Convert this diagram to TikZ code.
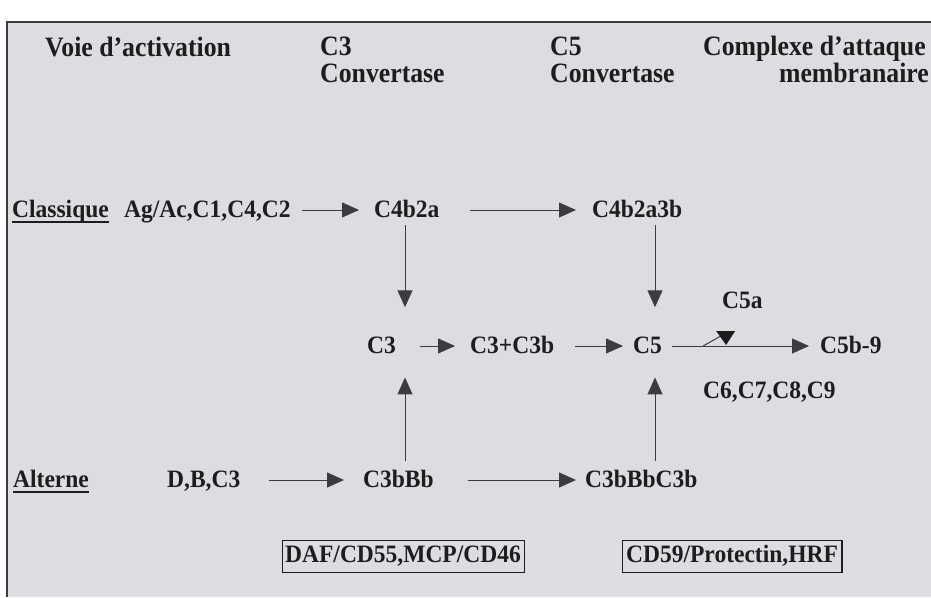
\documentclass[tikz,border=0pt]{standalone}
\usepackage{fontspec}
\setmainfont{Liberation Serif}
\newfontfamily\bodyf{Liberation Serif}[FakeStretch=0.94]
\newfontfamily\ttlf{Liberation Serif}[FakeStretch=0.92]
\usetikzlibrary{arrows.meta}
\definecolor{bg}{RGB}{220,221,224}
\definecolor{ink}{RGB}{30,28,29}
\definecolor{edge}{RGB}{60,60,62}
\begin{document}
\begin{tikzpicture}[x=1pt,y=-1pt,
  lbl/.style={inner sep=0pt, anchor=base west, text=ink, font=\bodyf\fontsize{25}{28}\selectfont\bfseries},
  ttl/.style={lbl, font=\ttlf\fontsize{28}{30}\selectfont\bfseries},
  arr/.style={draw=edge, line width=1pt, -{Triangle[length=17pt,width=15pt]}},
  uline/.style={draw=ink, line width=2pt},
  boxed/.style={lbl, anchor=center, draw=ink, line width=1pt, inner sep=0pt,
                minimum height=32pt}]
\useasboundingbox (0,0) rectangle (931,597);
\fill[white] (0,0) rectangle (931,597);
\fill[bg] (7,22) rectangle (931,597);
\draw[edge, line width=1.2pt] (7,597) -- (7,22) -- (931,22);

% titles
\node[ttl] (t1) at (45,56) {Voie d’activation};
\node[ttl] (t2) at (320,55) {C3};
\node[ttl] (t2b) at (320,82) {Convertase};
\node[ttl] (t3) at (550,55) {C5};
\node[ttl] (t3b) at (550,82) {Convertase};
\node[ttl] (t4) at (703,55) {Complexe d’attaque};
\node[ttl, anchor=base east] (t4b) at (929,82) {membranaire};

% classical row
\node[lbl] (cl) at (12,217) {Classique};
\draw[uline] ([yshift=-5pt]cl.base west) -- ([yshift=-5pt]cl.base east);
\node[lbl] (agac) at (124,217) {Ag/Ac,C1,C4,C2};
\node[lbl] (c4b2a) at (374,217) {C4b2a};
\node[lbl] (c4b2a3b) at (592,217) {C4b2a3b};

% middle row
\node[lbl] (c5a) at (722,308) {C5a};
\node[lbl] (c3) at (367,353) {C3};
\node[lbl] (c3c3b) at (470,353) {C3+C3b};
\node[lbl] (c5) at (633,353) {C5};
\node[lbl] (c5b9) at (820,353) {C5b-9};
\node[lbl] (c6) at (703,398) {C6,C7,C8,C9};

% alternative row
\node[lbl] (alt) at (13,487) {Alterne};
\draw[uline] ([yshift=-5pt]alt.base west) -- ([yshift=-5pt]alt.base east);
\node[lbl] (dbc3) at (167,487) {D,B,C3};
\node[lbl] (c3bbb) at (363,487) {C3bBb};
\node[lbl] (c3bbbc3b) at (585,487) {C3bBbC3b};

% regulators
\node[boxed, minimum width=242pt] (daf) at (403,556) {DAF/CD55,MCP/CD46};
\node[boxed, minimum width=219pt] (cd59) at (732,556) {CD59/Protectin,HRF};
\draw[ink, line width=1.6pt] (daf.south west) -- (daf.south east) -- (daf.north east);
\draw[ink, line width=1.6pt] (cd59.south west) -- (cd59.south east) -- (cd59.north east);

% horizontal arrows
\draw[arr, shorten <=11pt, shorten >=15pt] ([yshift=7pt]agac.base east) -- ([yshift=7pt]c4b2a.base west);
\draw[arr, shorten <=30pt, shorten >=16pt] ([yshift=7pt]c4b2a.base east) -- ([yshift=7pt]c4b2a3b.base west);
\draw[arr, shorten <=24pt, shorten >=15pt] ([yshift=7pt]c3.base east) -- ([yshift=7pt]c3c3b.base west);
\draw[arr, shorten <=21pt, shorten >=10pt] ([yshift=7pt]c3c3b.base east) -- ([yshift=7pt]c5.base west);
\draw[arr, shorten <=10pt, shorten >=11pt] ([yshift=7pt]c5.base east) -- ([yshift=7pt]c5b9.base west);
\draw[arr, shorten <=28pt, shorten >=19pt] ([yshift=7pt]dbc3.base east) -- ([yshift=7pt]c3bbb.base west);
\draw[arr, shorten <=34pt, shorten >=9pt] ([yshift=7pt]c3bbb.base east) -- ([yshift=7pt]c3bbbc3b.base west);

% C5a side branch
\coordinate (br) at ([xshift=41pt,yshift=7pt]c5.base east);
\draw[edge, line width=1pt] (br) -- ++(23,-13);
\fill[ink] (br) ++(13,-15) -- ++(19,0) -- ++(-9,14) -- cycle;

% vertical arrows
\coordinate (v1) at (405,0);
\coordinate (v2) at (655,0);
\draw[arr, shorten <=8pt, shorten >=29pt] (v1 |- c4b2a.south) -- (v1 |- c3.north);
\draw[arr, shorten <=8pt, shorten >=29pt] (v2 |- c4b2a3b.south) -- (v2 |- c5.north);
\draw[arr, shorten <=8pt, shorten >=24pt] (v1 |- c3bbb.north) -- (v1 |- c3.south);
\draw[arr, shorten <=8pt, shorten >=24pt] (v2 |- c3bbbc3b.north) -- (v2 |- c5.south);
\end{tikzpicture}
\end{document}
